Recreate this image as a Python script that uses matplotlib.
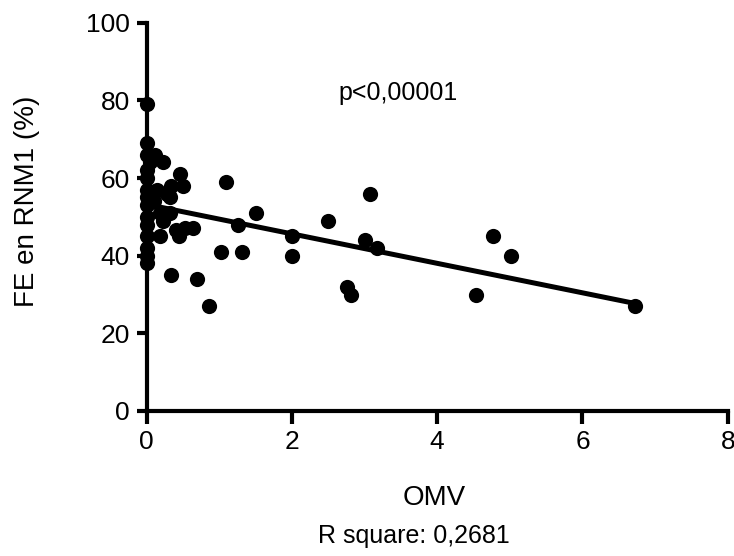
import numpy as np
import matplotlib
matplotlib.use("Agg")
import matplotlib.pyplot as plt

plt.rcParams['font.family'] = ['Liberation Sans', 'DejaVu Sans']

# OMV vs ejection fraction (RNM1), one point per patient
omv = [0, 0, 0, 0, 0, 0, 0, 0, 0, 0, 0, 0, 0, 0,
       0.05, 0.12, 0.23, 0.46, 0.50, 0.34, 0.28, 0.32, 0.15, 0.10,
       0.18, 0.23, 0.32, 0.18, 0.41, 0.44, 0.53, 0.64,
       0.33, 0.70, 0.86, 1.03, 1.32, 1.10, 1.26, 1.50, 2.00, 2.00,
       2.50, 2.76, 2.82, 3.00, 3.08, 3.17, 4.54, 4.77, 5.02, 6.72]
fe = [79, 69, 66, 62, 60, 57, 55, 53, 50, 48, 45, 42, 40, 38,
      64, 66, 64, 61, 58, 58, 56, 55, 57, 54,
      51, 49, 51, 45, 46.5, 45, 47, 47,
      35, 34, 27, 41, 41, 59, 48, 51, 45, 40,
      49, 32, 30, 44, 56, 42, 30, 45, 40, 27]

x_ticks = [0, 2, 4, 6, 8]
y_ticks = [0, 20, 40, 60, 80, 100]

x = np.array(omv)
y = np.array(fe)
slope, intercept = np.polyfit(x, y, 1)
xfit = np.array([x.min(), x.max()])

fig = plt.figure(figsize=(7.34, 5.56), dpi=100)
ax = fig.add_axes([0.1997, 0.2608, 0.7918, 0.6984])

ax.scatter(x, y, s=120, color='black', zorder=3, clip_on=False, linewidths=0)
ax.plot(xfit, intercept + slope * xfit, color='black', lw=3.6, zorder=4,
        solid_capstyle='butt')

ax.set_xlim(0, 8)
ax.set_ylim(0, 100)
ax.set_xticks(x_ticks)
ax.set_yticks(y_ticks)

for side in ['top', 'right']:
    ax.spines[side].set_visible(False)
for side in ['left', 'bottom']:
    ax.spines[side].set_linewidth(3)
ax.tick_params(axis='x', length=9, width=3, labelsize=19, pad=5)
ax.tick_params(axis='y', length=7, width=3, labelsize=19, pad=5)

ax.set_xlabel('OMV', fontsize=20)
ax.set_ylabel('FE en RNM1 (%)', fontsize=20)
ax.xaxis.set_label_coords(0.495, -0.19)
ax.yaxis.set_label_coords(-0.183, 0.54)

ax.text(3.46, 82, 'p<0,00001', fontsize=18, ha='center', va='center')
fig.text(414 / 734, 1 - 536 / 556, 'R square: 0,2681', fontsize=18,
         ha='center', va='center')

fig.savefig('out.png', dpi=100)
